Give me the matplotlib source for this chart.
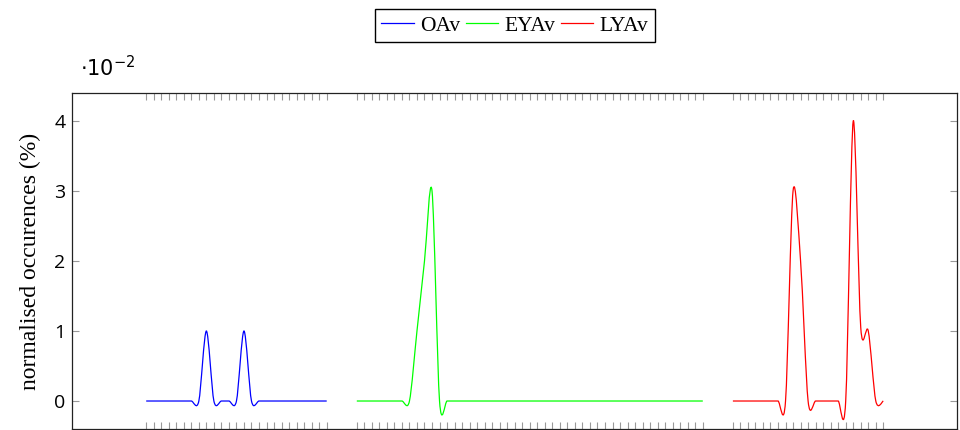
import numpy as np
import matplotlib.pyplot as plt
from matplotlib.path import Path
from matplotlib.patches import PathPatch
from matplotlib.lines import Line2D

plt.rcParams['font.family'] = ['Liberation Serif', 'DejaVu Serif']
plt.rcParams['mathtext.fontset'] = 'dejavusans'

# sample positions of the three groups on a shared axis
oav_x = np.arange(0, 25)
eyav_x = np.arange(28, 75)
lyav_x = np.arange(78, 99)

oav = [0, 0, 0, 0, 0, 0, 0, 0, 0.01, 0, 0, 0, 0, 0.01, 0,
       0, 0, 0, 0, 0, 0, 0, 0, 0, 0]
eyav = [0, 0, 0, 0, 0, 0, 0, 0, 0.01, 0.02, 0.03, 0, 0, 0, 0,
        0, 0, 0, 0, 0, 0, 0, 0, 0, 0, 0, 0, 0, 0, 0,
        0, 0, 0, 0, 0, 0, 0, 0, 0, 0, 0, 0, 0, 0, 0,
        0, 0]
lyav = [0, 0, 0, 0, 0, 0, 0, 0, 0.03, 0.02, 0, 0, 0, 0, 0,
        0, 0.04, 0.0105, 0.01, 0, 0]

labels = ['OAv', 'EYAv', 'LYAv']
colors = ['#0000ff', '#00ff00', '#ff0000']


def smooth_path(xs, ys, k=0.15):
    # cubic bezier through every point, tangents from neighbours
    pts = np.column_stack([xs, ys]).astype(float)
    n = len(pts)
    verts = [pts[0]]
    codes = [Path.MOVETO]
    for i in range(n - 1):
        prev = pts[i - 1] if i > 0 else pts[i]
        nxt = pts[i + 2] if i + 2 < n else pts[i + 1]
        verts += [pts[i] + k * (pts[i + 1] - prev),
                  pts[i + 1] - k * (nxt - pts[i]),
                  pts[i + 1]]
        codes += [Path.CURVE4] * 3
    return Path(verts, codes)


fig = plt.figure(figsize=(9.6, 4.3), dpi=100)
ax = fig.add_axes([0.0755, 0.0023, 0.9214, 0.7814])

handles = []
for xs, ys, c in zip([oav_x, eyav_x, lyav_x], [oav, eyav, lyav], colors):
    ax.add_patch(PathPatch(smooth_path(xs, ys), fill=False, edgecolor=c, lw=0.9))
    handles.append(Line2D([], [], color=c, lw=0.9))

ax.set_xlim(-9.8, 107.8)
ax.set_ylim(-0.004, 0.044)

ax.set_xticks(np.concatenate([oav_x, eyav_x, lyav_x]))
ax.set_xticklabels([])
ax.set_yticks([0, 0.01, 0.02, 0.03, 0.04])
ax.set_yticklabels(['0', '1', '2', '3', '4'], fontfamily='Open Sans')
ax.tick_params(axis='x', direction='in', top=True, bottom=True,
               length=5, width=0.8, color='#999999')
ax.tick_params(axis='y', direction='in', left=True, right=True,
               length=5, width=0.8, color='#999999', labelsize=14, pad=5)
for s in ax.spines.values():
    s.set_linewidth(0.9)
    s.set_color('#222222')

ax.text(0.008, 1.035, r'$\cdot 10^{-2}$', transform=ax.transAxes,
        fontsize=15, ha='left', va='bottom')

ax.set_ylabel('normalised occurences (%)', fontsize=17)
ax.yaxis.set_label_coords(-0.048, 0.5)
ax.yaxis.label.set_va('center')

fig.legend(handles, labels, loc='upper center',
           bbox_to_anchor=(514.75 / 960, 1 - 9 / 430), ncol=3,
           fancybox=False, edgecolor='black', framealpha=1,
           fontsize=15.5, handlelength=1.5, handletextpad=0.3,
           columnspacing=0.25, borderpad=0.3, borderaxespad=0)

fig.savefig('out.png', dpi=100)
